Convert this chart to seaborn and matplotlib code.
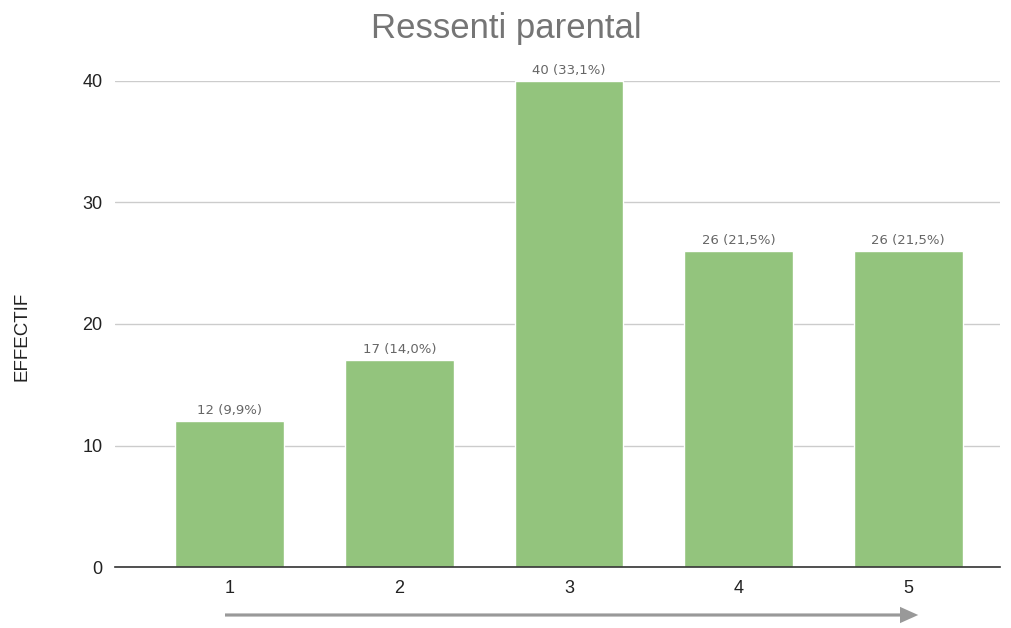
import matplotlib
matplotlib.use("Agg")
import matplotlib.pyplot as plt
import seaborn as sns
import pandas as pd

# donnees du graphique
categories = ["1", "2", "3", "4", "5"]
effectifs = [12, 17, 40, 26, 26]
etiquettes = ["12 (9,9%)", "17 (14,0%)", "40 (33,1%)", "26 (21,5%)", "26 (21,5%)"]
yticks = [0, 10, 20, 30, 40]

df = pd.DataFrame({"Note": categories, "Effectif": effectifs})

sns.set_theme(style="white")
plt.rcParams["font.family"] = ["Liberation Sans", "DejaVu Sans"]

fig = plt.figure(figsize=(10.12, 6.28), dpi=100)
ax = fig.add_axes([0.1136, 0.0971, 0.8744, 0.774])

sns.barplot(data=df, x="Note", y="Effectif", color="#93c47d", width=0.64,
            saturation=1, ax=ax, zorder=3)

# etiquettes au-dessus des barres
for i, txt in enumerate(etiquettes):
    ax.text(i, effectifs[i] + 0.35, txt, ha="center", va="bottom",
            fontsize=9.5, color="#666666", zorder=4, family="DejaVu Sans")

ax.set_ylim(0, 40)
ax.set_xlim(-0.676, 4.54)
ax.set_yticks(yticks)
ax.yaxis.grid(True, color="#cccccc", linewidth=1, zorder=0)
for s in ["top", "right", "left"]:
    ax.spines[s].set_visible(False)
ax.spines["bottom"].set_color("#333333")
ax.spines["bottom"].set_linewidth(1.2)
ax.spines["bottom"].set_zorder(5)
ax.tick_params(axis="both", length=0, labelsize=13, colors="#222222")
ax.tick_params(axis="x", pad=9)
ax.tick_params(axis="y", pad=9)

ax.set_xlabel("")
ax.set_ylabel("EFFECTIF", fontsize=13.5, color="#222222")
ax.yaxis.set_label_coords(-84 / 885, (567 - 336) / 486)
fig.suptitle("Ressenti parental", y=0.981, fontsize=25, color="#757575")

# fleche sous l'axe
fig.patches.append(matplotlib.patches.FancyArrow(
    225 / 1012, 1 - 615 / 628, 675 / 1012, 0, width=0.005,
    head_width=0.026, head_length=0.018, length_includes_head=False,
    transform=fig.transFigure, color="#999999", lw=0))

fig.savefig("out.png", dpi=100)
